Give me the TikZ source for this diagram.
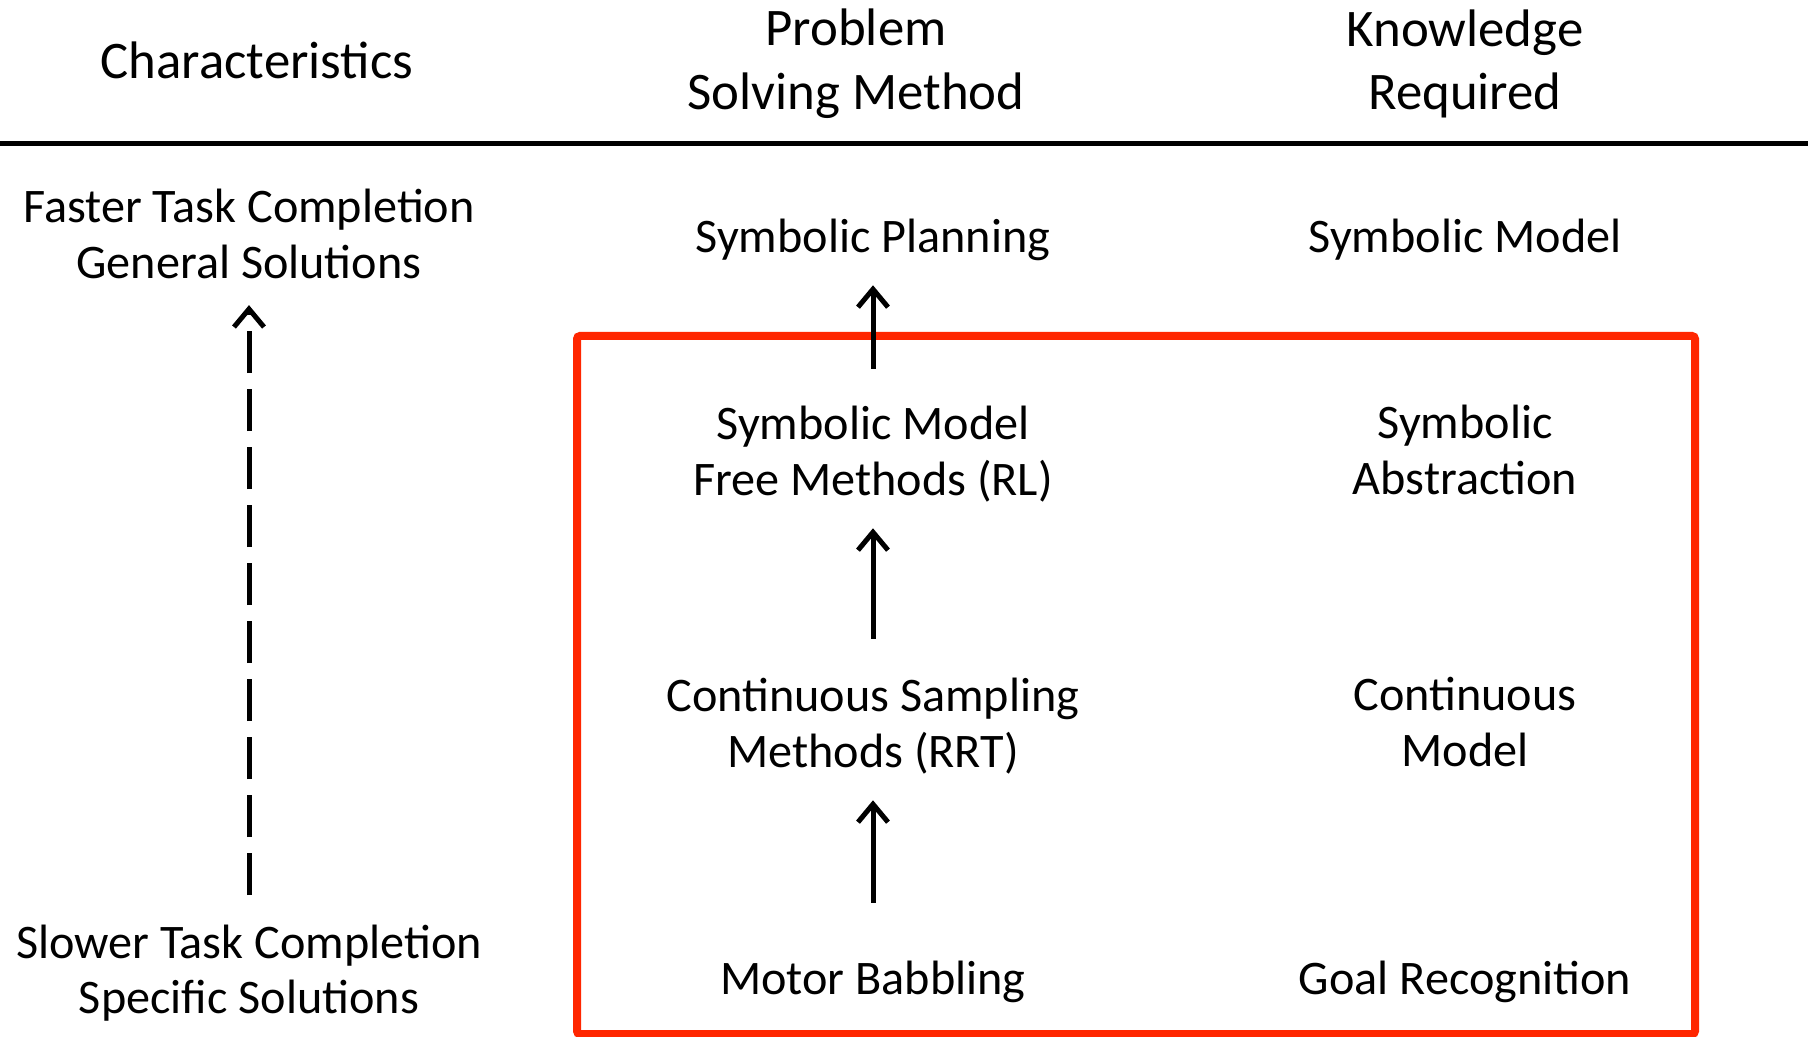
\documentclass[tikz,border=0pt]{standalone}
\usepackage{fontspec}
\setmainfont{Carlito}
\usetikzlibrary{arrows.meta}
\definecolor{boxred}{RGB}{255,38,0}
\begin{document}
\begin{tikzpicture}[x=0.5pt,y=-0.5pt,
  head/.style={align=center,inner sep=0pt,font=\fontsize{26.4}{31.8}\selectfont},
  txt/.style={align=center,inner sep=0pt,font=\fontsize{24.1}{27.8}\selectfont},
  up/.style={-{Straight Barb[length=9pt,width=15pt]},line width=2.5pt}]
\useasboundingbox (0,0) rectangle (1814,1037);
% headings
\node[head] (hchar) at (257,60) {Characteristics};
\node[head] (hmeth) at (856,64) {Problem\\Solving Method};
\node[head] (hknow) at (1465,64) {Knowledge\\Required};
\draw[line width=2.5pt] (0,144)--(1808,144);
% red frame
\draw[boxred,line width=4pt,rounded corners=1.5pt] (577,336) rectangle (1695,1034);
% characteristics
\node[txt] (fast) at (249,234) {Faster Task Completion\\General Solutions};
\node[txt] (slow) at (249,973) {Slower Task Completion\\Specific Solutions};
\draw[up,dash pattern=on 21pt off 8pt,shorten <=14.5pt,shorten >=13pt] (slow)--(fast);
% methods
\node[txt] (plan) at (873,240) {Symbolic Planning};
\node[txt] (rl) at (873,454) {Symbolic Model\\Free Methods (RL)};
\node[txt] (rrt) at (873,726) {Continuous Sampling\\Methods (RRT)};
\node[txt] (mb) at (873,982) {Motor Babbling};
\draw[up,shorten <=18.5pt,shorten >=12pt] (rl)--(plan);
\draw[up,shorten <=19.5pt,shorten >=13pt] (rrt)--(rl);
\draw[up,shorten <=29pt,shorten >=13pt] (mb)--(rrt);
% knowledge
\node[txt] (kmod) at (1465,240) {Symbolic Model};
\node[txt] (kabs) at (1465,450) {Symbolic\\Abstraction};
\node[txt] (kcont) at (1465,722) {Continuous\\Model};
\node[txt] (kgoal) at (1465,982) {Goal Recognition};
\end{tikzpicture}
\end{document}
